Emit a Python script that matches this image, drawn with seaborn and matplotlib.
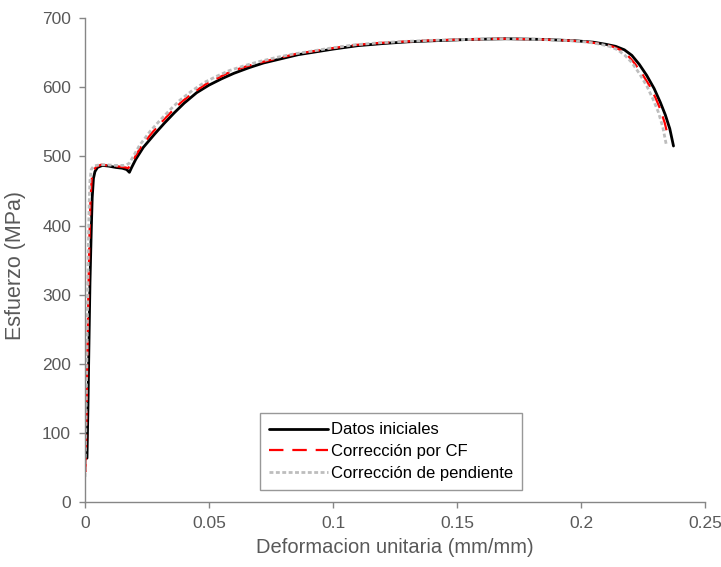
import matplotlib
matplotlib.use("Agg")
import matplotlib.pyplot as plt
import seaborn as sns
import pandas as pd

# Tensile test: stress vs strain, raw data and two corrections
strain_raw = [0.0008, 0.0012, 0.0016, 0.0020, 0.0025, 0.0029, 0.0034, 0.0040, 0.0050,
              0.0070, 0.0095, 0.0125, 0.0150, 0.0168, 0.0179, 0.0188, 0.0205, 0.0235,
              0.0280, 0.0320, 0.0360, 0.0400, 0.0450, 0.0500, 0.0550, 0.0600, 0.0660,
              0.0720, 0.0790, 0.0860, 0.0930, 0.1000, 0.1100, 0.1200, 0.1300, 0.1400,
              0.1550, 0.1700, 0.1850, 0.1980, 0.2050, 0.2100, 0.2140, 0.2175, 0.2205,
              0.2235, 0.2265, 0.2295, 0.2320, 0.2340, 0.2358, 0.2373]
stress_raw = [64, 140, 230, 317, 390, 440, 468, 478, 484,
              487, 486, 484, 483, 481, 477, 484, 496, 513,
              532, 548, 563, 577, 592, 603, 612, 620, 628,
              635, 641, 647, 651, 655, 660, 663, 665.5, 667,
              669, 670, 669, 667, 665, 662, 659, 654, 646,
              633, 617, 598, 578, 560, 540, 515]

strain_cf = [0.0002, 0.0006, 0.0010, 0.0014, 0.0018, 0.0022, 0.0027, 0.0033, 0.0045,
             0.0065, 0.0090, 0.0120, 0.0145, 0.0163, 0.0174, 0.0183, 0.0198, 0.0226,
             0.0270, 0.0310, 0.0350, 0.0390, 0.0440, 0.0490, 0.0540, 0.0590, 0.0650,
             0.0710, 0.0780, 0.0850, 0.0920, 0.0990, 0.1090, 0.1190, 0.1290, 0.1390,
             0.1540, 0.1690, 0.1840, 0.1970, 0.2035, 0.2085, 0.2125, 0.2158, 0.2188,
             0.2215, 0.2245, 0.2275, 0.2300, 0.2320, 0.2338, 0.2352]
stress_cf = [44, 130, 225, 310, 385, 437, 467, 479, 485,
             488, 487, 486, 485, 484, 483, 487, 497, 514,
             534, 550, 565, 579, 593, 605, 614, 623, 630,
             636, 642, 648, 652, 656, 661, 664, 666, 667.5,
             669, 670, 669, 667, 665, 662, 659, 654, 646,
             635, 620, 603, 585, 568, 548, 527]

strain_slope = [0.0000, 0.0004, 0.0008, 0.0011, 0.0014, 0.0017, 0.0020, 0.0025, 0.0035,
                0.0060, 0.0085, 0.0115, 0.0140, 0.0158, 0.0168, 0.0178, 0.0193, 0.0220,
                0.0262, 0.0302, 0.0342, 0.0382, 0.0432, 0.0482, 0.0532, 0.0582, 0.0642,
                0.0702, 0.0772, 0.0842, 0.0912, 0.0982, 0.1082, 0.1182, 0.1282, 0.1382,
                0.1535, 0.1685, 0.1835, 0.1965, 0.2030, 0.2078, 0.2115, 0.2148, 0.2177,
                0.2204, 0.2235, 0.2265, 0.2290, 0.2312, 0.2330, 0.2345]
stress_slope = [37, 125, 220, 305, 380, 435, 465, 481, 486,
                488, 488, 487, 487, 487, 488, 490, 499, 516,
                536, 552, 567, 581, 595, 607, 616, 624, 631,
                637, 643, 648, 652, 656, 661, 664, 666, 667.5,
                669, 670, 669, 667, 665, 662, 659, 654, 646,
                636, 620, 602, 583, 564, 542, 515]

series_names = ["Datos iniciales", "Corrección por CF", "Corrección de pendiente"]

sns.set_theme(style="white")
plt.rcParams["font.family"] = ["Liberation Sans", "DejaVu Sans"]

fig = plt.figure(figsize=(7.21, 5.67), dpi=100)
ax = fig.add_axes([0.1179, 0.1138, 0.8599, 0.8545])

df_raw = pd.DataFrame({"x": strain_raw, "y": stress_raw})
df_cf = pd.DataFrame({"x": strain_cf, "y": stress_cf})
df_slope = pd.DataFrame({"x": strain_slope, "y": stress_slope})

sns.lineplot(data=df_raw, x="x", y="y", sort=False, ax=ax, color="black",
             linewidth=2.0, label=series_names[0])
sns.lineplot(data=df_cf, x="x", y="y", sort=False, ax=ax, color="#FF0000",
             linewidth=1.6, label=series_names[1])
ax.lines[-1].set_dashes([6.5, 4])
sns.lineplot(data=df_slope, x="x", y="y", sort=False, ax=ax, color="#BDBDBD",
             linewidth=2.0, label=series_names[2])
ax.lines[-1].set_dashes([1.4, 0.9])
for ln in ax.lines:
    ln.set_solid_joinstyle("round")
    ln.set_dash_joinstyle("round")

ax.set_xlim(0, 0.25)
ax.set_ylim(0, 700)
ax.set_xticks([0, 0.05, 0.1, 0.15, 0.2, 0.25])
ax.set_xticklabels(["0", "0.05", "0.1", "0.15", "0.2", "0.25"])
ax.set_yticks(range(0, 701, 100))

axis_col = "#868686"
text_col = "#595959"
for side in ["top", "right"]:
    ax.spines[side].set_visible(False)
for side in ["left", "bottom"]:
    ax.spines[side].set_color(axis_col)
    ax.spines[side].set_linewidth(1.0)
ax.tick_params(axis="both", direction="out", length=4, width=1.0, color=axis_col,
               labelcolor=text_col, labelsize=12.5, pad=6)
ax.tick_params(axis="x", bottom=True)
ax.tick_params(axis="y", left=True)

ax.set_xlabel("Deformacion unitaria (mm/mm)", fontsize=14.5, color=text_col, labelpad=5)
ax.set_ylabel("Esfuerzo (MPa)", fontsize=15.5, color=text_col)
ax.yaxis.set_label_coords(-0.095, 0.489)

leg = ax.legend(loc="lower center", bbox_to_anchor=(0.494, 0.026), fontsize=12,
                frameon=True, fancybox=False, edgecolor="#7F7F7F", handlelength=3.5,
                handletextpad=0.2, borderpad=0.55, labelspacing=0.4, borderaxespad=0)
leg.get_frame().set_linewidth(1.0)
for t in leg.get_texts():
    t.set_color("#000000")

fig.savefig("out.png", dpi=100, facecolor="white")
